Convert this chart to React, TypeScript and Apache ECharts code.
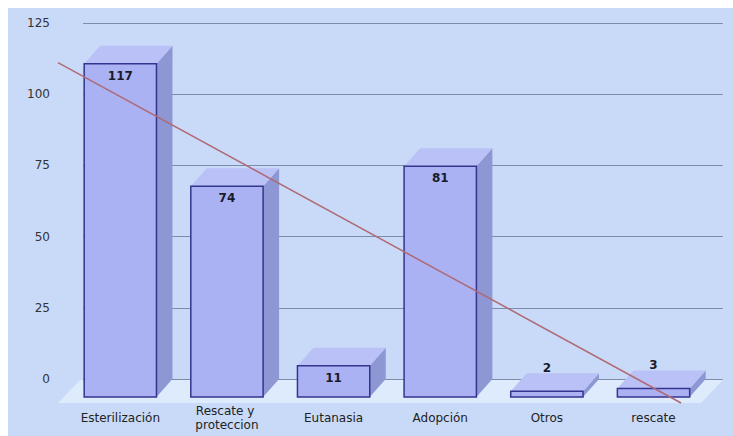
import React, { useEffect, useRef } from "react";
import * as echarts from "echarts";

const categories = ["Esterilización", "Rescate y proteccion", "Eutanasia", "Adopción", "Otros", "rescate"];
const values = [117, 74, 11, 81, 2, 3];
const yTicks = { min: 0, max: 125, interval: 25 };

// least-squares linear trendline (as drawn by the spreadsheet)
function linearFit(ys: number[]) {
  const n = ys.length;
  const mx = (n - 1) / 2;
  const my = ys.reduce((s, v) => s + v, 0) / n;
  let sxy = 0, sxx = 0;
  ys.forEach((v, i) => { sxy += (i - mx) * (v - my); sxx += (i - mx) * (i - mx); });
  const b = sxy / sxx;
  return { a: my - b * mx, b };
}
const fit = linearFit(values);

const DX = 16; // depth offset (px)
const DY = 18;
const FLOOR_DX = 22;
const FLOOR_DY = 24;
const FONT = "DejaVu Sans";

export default function App() {
  const ref = useRef<HTMLDivElement>(null);
  useEffect(() => {
    if (!ref.current) return;
    const chart = echarts.init(ref.current, null, { renderer: "svg" });
    chart.setOption({
      animation: false,
      backgroundColor: "#c9daf8",
      grid: { left: 75, right: 4, top: 15, bottom: 57, containLabel: false },
      xAxis: {
        type: "category",
        data: categories,
        axisLine: { show: false },
        axisTick: { show: false },
        splitLine: { show: false },
        axisLabel: {
          interval: 0,
          fontFamily: FONT,
          fontSize: 12,
          color: "#222",
          margin: 39,
          verticalAlign: "middle",
          lineHeight: 14,
          width: 90,
          overflow: "break",
          padding: [0, 32, 0, 0],
        },
      },
      yAxis: {
        type: "value",
        min: yTicks.min,
        max: yTicks.max,
        interval: yTicks.interval,
        axisLine: { show: false },
        axisTick: { show: false },
        axisLabel: { fontFamily: FONT, fontSize: 12, color: "#333", margin: 33 },
        splitLine: { show: true, lineStyle: { color: "#7f8bab", width: 1 } },
      },
      series: [
        {
          type: "custom",
          name: "floor",
          z: 1,
          silent: true,
          data: [[0]],
          renderItem: (params: any, api: any) => {
            const cs = params.coordSys;
            const y0 = api.coord([0, 0])[1];
            const xl = cs.x - 3;
            const xr = cs.x + cs.width;
            return {
              type: "polygon",
              shape: {
                points: [
                  [xl, y0 + 1],
                  [xr, y0 + 1],
                  [xr - FLOOR_DX, y0 + FLOOR_DY],
                  [xl - FLOOR_DX, y0 + FLOOR_DY],
                ],
              },
              style: { fill: "#deebfc" },
            };
          },
        },
        {
          type: "custom",
          name: "bars",
          z: 3,
          data: values.map((v, i) => [i, v]),
          renderItem: (params: any, api: any) => {
            const i = api.value(0);
            const v = api.value(1);
            const band = api.size([1, 0])[0];
            const w = band * 0.678;
            const [cx, yb] = api.coord([i, v]);
            const y0 = api.coord([i, 0])[1];
            const fcx = cx - DX;
            const xl = fcx - w / 2;
            const xr = fcx + w / 2;
            const yt = yb + DY;
            const ybot = y0 + DY;
            const h = ybot - yt;
            const inside = h > 25;
            return {
              type: "group",
              children: [
                {
                  type: "polygon",
                  shape: { points: [[xr, yt], [xr + DX, yt - DY], [xr + DX, ybot - DY], [xr, ybot]] },
                  style: { fill: "#8d97d3" },
                },
                {
                  type: "polygon",
                  shape: { points: [[xl, yt], [xl + DX, yt - DY], [xr + DX, yt - DY], [xr, yt]] },
                  style: { fill: "#b9c1f6" },
                },
                {
                  type: "rect",
                  shape: { x: xl, y: yt, width: w, height: h },
                  style: { fill: "#aab2f4", stroke: "#34348f", lineWidth: 1.5 },
                },
                {
                  type: "text",
                  z2: 10,
                  style: {
                    text: String(v),
                    x: fcx,
                    y: inside ? yt + 12 : yb - 5,
                    align: "center",
                    verticalAlign: "middle",
                    fontFamily: FONT,
                    fontSize: 12,
                    fontWeight: "bold",
                    fill: "#1a1a2a",
                  },
                },
              ],
            };
          },
        },
        {
          type: "custom",
          name: "trend",
          z: 4,
          silent: true,
          data: [[0]],
          renderItem: (params: any, api: any) => {
            const cs = params.coordSys;
            const band = api.size([1, 0])[0];
            const ppu = api.size([0, 1])[1];
            const [x0, y0] = api.coord([0, 0]);
            const yOf = (val: number) => y0 - val * ppu;
            const xL = cs.x - FLOOR_DX - 3;
            const iL = (xL + DX - x0) / band;
            const yL = yOf(fit.a + fit.b * iL);
            const vR = -FLOOR_DY / ppu;
            const iR = (vR - fit.a) / fit.b;
            const xR = x0 + iR * band - DX;
            const yR = y0 + FLOOR_DY;
            return {
              type: "line",
              shape: { x1: xL, y1: yL, x2: xR, y2: yR },
              style: { stroke: "#b06a74", lineWidth: 1.5 },
            };
          },
        },
      ],
    });
    return () => chart.dispose();
  }, []);
  return (
    <div
      ref={ref}
      style={{ position: "fixed", left: 8, top: 8, width: 725, height: 428 }}
    />
  );
}
